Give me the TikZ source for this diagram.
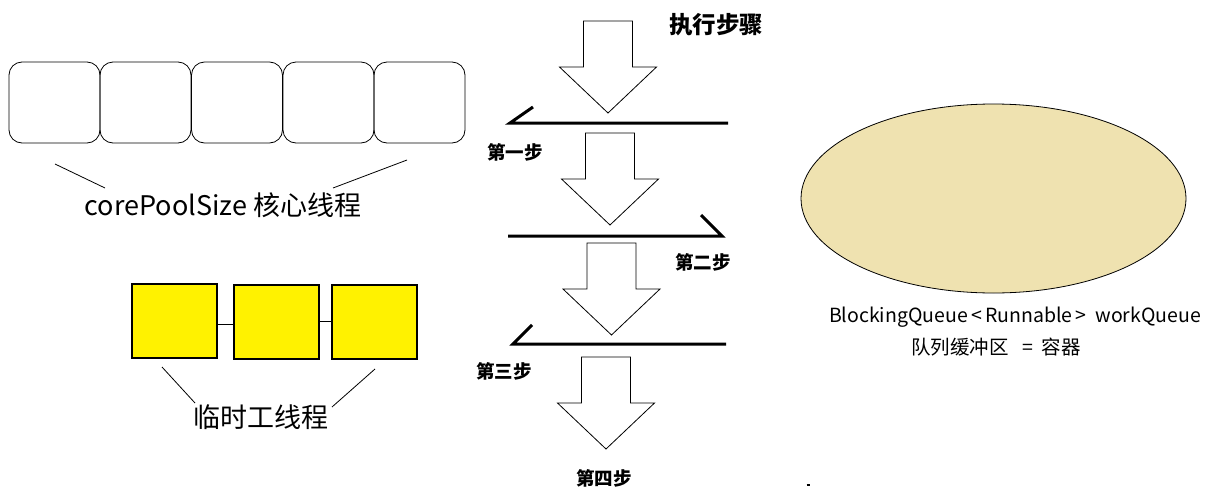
\documentclass[tikz,border=0pt]{standalone}
\usepackage{fontspec}
\setmainfont{Noto Sans CJK SC}
\usetikzlibrary{shapes.geometric}
\definecolor{tempyellow}{RGB}{255,242,0}
\definecolor{queuefill}{RGB}{239,226,176}
\begin{document}
\begin{tikzpicture}[x=1pt,y=-1pt,
  corebox/.style={draw, line width=0.8pt, rounded corners=13pt, minimum width=91pt, minimum height=81pt, inner sep=0pt},
  tempbox/.style={draw, line width=1.2pt, fill=tempyellow, minimum width=85pt, minimum height=74pt, inner sep=0pt},
  bigtext/.style={font=\fontsize{27}{32}\selectfont, inner sep=0pt},
  steplabel/.style={font=\fontsize{18.5}{22}\selectfont\bfseries, inner sep=0pt},
  qtext/.style={font=\fontsize{19.5}{23}\selectfont, inner sep=0pt},
  thinline/.style={line width=0.8pt},
  stepline/.style={line width=3pt},
  bigarrow/.pic={\draw[line width=0.8pt, fill=white] (-24.5,0) -- (24.5,0) -- (24.5,46) -- (48.5,46) -- (0,92) -- (-48.5,46) -- (-24.5,46) -- cycle;}
]
\path[use as bounding box, fill=white] (0,0) rectangle (1210,498);

% core threads
\node[corebox] (c1) at (54.5,102.5) {};
\node[corebox] (c2) at (145.5,102.5) {};
\node[corebox] (c3) at (237,102.5) {};
\node[corebox] (c4) at (328.5,102.5) {};
\node[corebox] (c5) at (419.5,102.5) {};
\node[bigtext] (core) at (223,205) {corePoolSize 核心线程};
\coordinate (cl) at (55,164);
\coordinate (cr) at (407,160);
\draw[thinline] (cl) -- (105,188);
\draw[thinline] (cr) -- (333,188);

% temporary threads
\node[tempbox] (t1) at (174.5,321) {};
\node[tempbox] (t2) at (276.5,322) {};
\node[tempbox] (t3) at (374.5,322) {};
\draw[thinline] (t1.east |- 0,324) -- (t2.west |- 0,324);
\draw[thinline] (t2.east |- 0,321) -- (t3.west |- 0,321);
\node[bigtext] (temp) at (261,417) {临时工线程};
\coordinate (tl) at (162,367);
\coordinate (tr) at (375,369);
\draw[thinline] (tl) -- (195,403);
\draw[thinline] (tr) -- (332,407);

% execution steps
\node[font=\fontsize{23.5}{28}\selectfont\bfseries, inner sep=0pt] (title) at (716,25) {执行步骤};
\pic at (608,21) {bigarrow};
\pic at (610,133) {bigarrow};
\pic at (611.5,243) {bigarrow};
\pic at (606,357) {bigarrow};

\coordinate (l1a) at (510,123);
\coordinate (l1b) at (728,123);
\draw[stepline] (l1b) -- (l1a) -- (533,107);
\node[steplabel] (s1) at (515,152) {第一步};

\coordinate (l2a) at (508,236);
\coordinate (l2b) at (722,236);
\draw[stepline] (l2a) -- (l2b) -- (701,215);
\node[steplabel] (s2) at (703,262) {第二步};

\coordinate (l3a) at (513,344);
\coordinate (l3b) at (726,344);
\draw[stepline] (l3b) -- (l3a) -- (532,325);
\node[steplabel] (s3) at (504,371) {第三步};

\node[steplabel] (s4) at (604,478) {第四步};

% work queue
\node[draw, line width=0.8pt, fill=queuefill, ellipse, minimum width=385pt, minimum height=189pt, inner sep=0pt] (queue) at (993.5,198.5) {};
\node[qtext] (qname) at (1015,317) {BlockingQueue\,<\,Runnable\,>\ \ workQueue};
\node[qtext] (qdesc) at (996,347) {队列缓冲区\ \ \ =\ \ 容器};

\draw[line width=1.2pt] (806.5,485) -- (809.5,485);
\end{tikzpicture}
\end{document}
